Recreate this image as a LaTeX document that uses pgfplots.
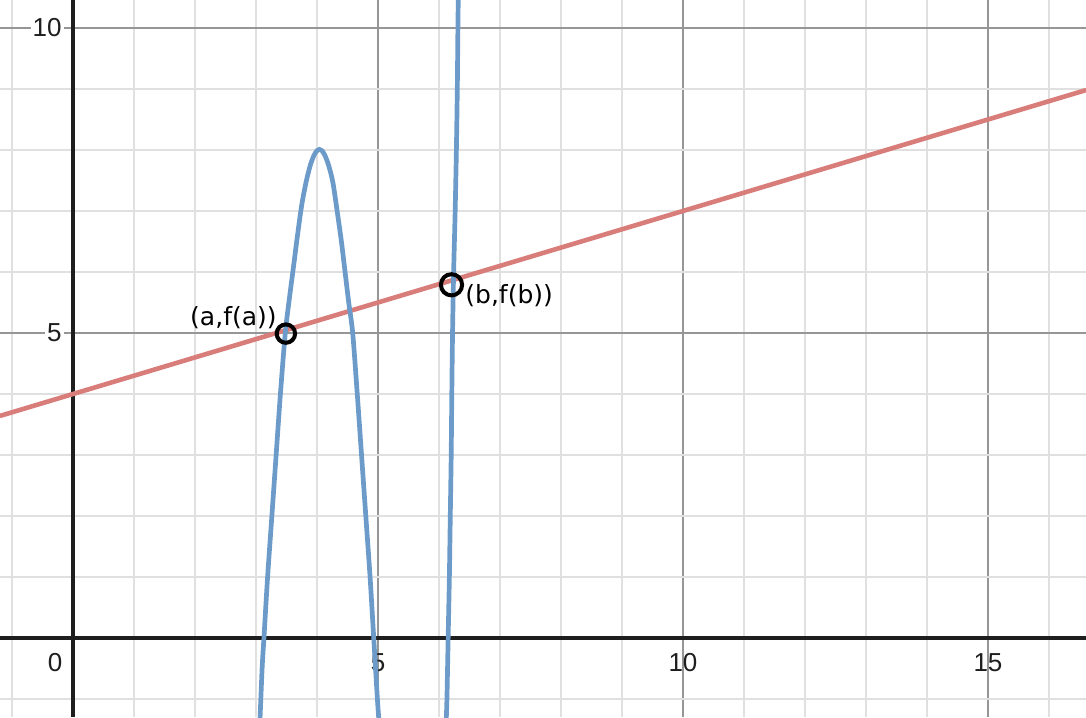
\documentclass[border=0pt]{standalone}
\usepackage{pgfplots}
\pgfplotsset{compat=1.18}
\usepackage{fontspec}
\setmainfont{Liberation Sans}
\newfontfamily\labelfont{DejaVu Sans}
\definecolor{dblue}{HTML}{6C9BCA}
\definecolor{dred}{HTML}{D87D79}
\definecolor{minorgrid}{HTML}{E0E0E0}
\definecolor{majorgrid}{HTML}{969696}
\definecolor{axisblack}{HTML}{1E1E1E}
\begin{document}
\begin{tikzpicture}
\begin{axis}[
  set layers,
  scale only axis,
  width=543pt, height=358.5pt,
  xmin=-1.197, xmax=16.607, ymin=-1.295, ymax=10.459,
  axis lines=middle,
  axis line style={-, line width=1.6pt, color=axisblack},
  xtick={5,10,15}, ytick={5,10},
  minor xtick={-1,0,...,16}, minor ytick={-1,0,...,10},
  grid=both,
  major grid style={line width=0.85pt, color=majorgrid},
  minor grid style={line width=0.85pt, color=minorgrid},
  major tick length=0pt, minor tick length=0pt,
  /pgf/number format/assume math mode=true,
  tick label style={font=\fontsize{13}{15}\selectfont, text=axisblack},
  xticklabel style={anchor=north, inner sep=0pt, yshift=-7.5pt},
  yticklabel style={anchor=east, inner sep=1pt, xshift=-4.5pt, fill=white},
  clip=true,
]
\coordinate (SW) at (rel axis cs:0,0);
\coordinate (NE) at (rel axis cs:1,1);
% red line
\addplot[dred, line width=2.3pt] coordinates {(-1.2,3.64) (16.61,8.983)};
% blue left bump
\addplot[dblue, line width=2.35pt, smooth] coordinates {
(3.065,-1.35) (3.10,-0.5) (3.13,0) (3.19,1) (3.26,2) (3.33,3) (3.40,4) (3.48,5)
(3.545,5.55) (3.61,6.05) (3.68,6.6) (3.75,7.1) (3.82,7.47) (3.89,7.75) (3.95,7.91) (4.0,7.99)
(4.04,8.01) (4.08,7.99) (4.13,7.91) (4.19,7.75) (4.26,7.47) (4.33,7.0) (4.40,6.5) (4.46,6.0)
(4.52,5.5) (4.585,5) (4.66,4) (4.73,3) (4.80,2) (4.87,1) (4.93,0) (4.99,-1) (5.015,-1.35)};
% blue right branch
\addplot[dblue, line width=2.35pt, smooth] coordinates {
(6.118,-1.35) (6.13,-1) (6.15,0) (6.17,1) (6.185,2) (6.20,3) (6.21,4) (6.222,5)
(6.24,6) (6.265,7) (6.285,8) (6.30,9) (6.31,10) (6.316,10.5)};
% points
\addplot[only marks, mark=o, mark size=4.6pt, mark options={line width=2pt, black}] coordinates {(3.49,4.99)};
\addplot[only marks, mark=o, mark size=5.3pt, mark options={line width=2pt, black}] coordinates {(6.205,5.79)};
% labels
\node[font=\labelfont\fontsize{12.5}{14}\selectfont, inner sep=0pt] at (axis cs:2.63,5.25) {(a,f(a))};
\node[font=\labelfont\fontsize{12.5}{14}\selectfont, inner sep=0pt] at (axis cs:7.15,5.61) {(b,f(b))};
\node[font=\fontsize{13}{15}\selectfont, text=axisblack, inner sep=0pt] at (axis cs:-0.295,-0.40) {0};
\end{axis}
\pgfresetboundingbox
\useasboundingbox (SW) rectangle (NE);
\end{tikzpicture}
\end{document}
